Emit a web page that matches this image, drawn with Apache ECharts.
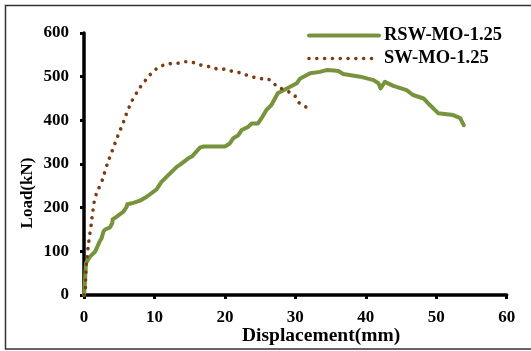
<!DOCTYPE html>
<html>
<head>
<meta charset="utf-8">
<script src="https://cdn.jsdelivr.net/npm/echarts@6/dist/echarts.min.js"></script>
<style>
  html, body { margin: 0; padding: 0; background: #fff; }
  #chart { width: 531px; height: 351px; }
</style>
</head>
<body>
<div id="chart"></div>
<script>
// Load–displacement curves (displacement in mm, load in kN)
const seriesNames = ['RSW-MO-1.25', 'SW-MO-1.25'];

const rswDisp = [0, 0.1, 0.2, 0.28, 0.85, 1.56, 2.0, 2.2, 2.5, 2.75, 3.0, 3.7, 4.0, 4.07, 4.6, 5.6, 6.06, 6.15, 6.8, 7.95, 8.9, 10.3, 11.0, 12.0, 13.2, 13.6, 14.8, 15.3, 16.5, 17.0, 20.0, 20.7, 21.2, 21.9, 22.4, 23.3, 23.8, 24.7, 25.2, 25.9, 26.6, 27.1, 27.5, 28.8, 30.2, 30.7, 32.1, 33.5, 34.4, 35.5, 36.1, 36.8, 39.2, 41.1, 41.8, 42.1, 42.7, 43.9, 45.8, 46.7, 48.2, 49.1, 50.3, 52.4, 53.4, 53.9];
const rswLoad = [0, 20, 50, 73, 88, 99, 114, 122, 130, 145, 150, 155, 164, 173, 179, 191, 202, 208, 210, 216, 225, 242, 259, 275, 294, 298, 313, 317, 338, 340, 340, 347, 359, 366, 378, 385, 393, 393, 405, 424, 435, 450, 462, 473, 485, 496, 508, 511, 515, 514, 513, 506, 500, 492, 485, 473, 488, 479, 469, 458, 450, 435, 416, 412, 405, 389];

const swDisp = [0, 0.14, 0.28, 0.47, 0.71, 1.0, 1.28, 1.7, 2.55, 3.2, 4.0, 4.8, 5.6, 6.4, 7.4, 8.7, 10.2, 11.2, 12.3, 13.4, 14.5, 15.6, 16.7, 17.7, 18.9, 20.0, 21.1, 22.1, 23.2, 24.3, 25.4, 26.5, 27.3, 28.1, 29.1, 30.0, 30.6, 31.6];
const swLoad = [0, 2, 55, 92, 126, 158, 195, 229, 261, 295, 330, 364, 396, 430, 461, 491, 517, 526, 530, 531, 534, 532, 526, 523, 518, 517, 512, 509, 503, 498, 495, 492, 479, 472, 465, 455, 439, 430];

const xTicks = [0, 10, 20, 30, 40, 50, 60];
const yTicks = [0, 100, 200, 300, 400, 500, 600];

const pairs = (xs, ys) => xs.map((x, i) => [x, ys[i]]);

const green = '#77933C';
const brown = '#7F3A10';
const dotPattern = [0.01, 7.8];
const serif = '"Liberation Serif", "Times New Roman", serif';
const chart = echarts.init(document.getElementById('chart'), null, { renderer: 'canvas' });

chart.setOption({
  backgroundColor: '#ffffff',
  animation: false,
  grid: { left: 84, top: 33, right: 24.3, bottom: 56, containLabel: false },
  xAxis: {
    type: 'value',
    min: xTicks[0], max: xTicks[xTicks.length - 1], interval: 10,
    axisLine: { show: true, onZero: false, lineStyle: { color: '#000', width: 3.5 } },
    axisTick: { show: true, inside: false, length: 4, lineStyle: { color: '#000', width: 3 } },
    axisLabel: { color: '#000', fontFamily: serif, fontWeight: 'bold', fontSize: 17, margin: 14 },
    splitLine: { show: false }
  },
  yAxis: {
    type: 'value',
    min: yTicks[0], max: yTicks[yTicks.length - 1], interval: 100,
    axisLine: { show: true, onZero: false, lineStyle: { color: '#000', width: 3.5 } },
    axisTick: { show: true, inside: false, length: 4, lineStyle: { color: '#000', width: 3 } },
    axisLabel: { color: '#000', fontFamily: serif, fontWeight: 'bold', fontSize: 17, margin: 15 },
    splitLine: { show: false }
  },
  legend: {
    orient: 'vertical',
    left: 302, top: 21,
    itemWidth: 70, itemHeight: 12, itemGap: 4,
    itemStyle: { color: 'rgba(0,0,0,0)', borderWidth: 0 },
    textStyle: { color: '#000', fontFamily: serif, fontWeight: 'bold', fontSize: 18.5 },
    data: [
      { name: seriesNames[0], lineStyle: { color: green, width: 4, type: 'solid' } },
      { name: seriesNames[1], lineStyle: { color: brown, width: 3.6, type: dotPattern, cap: 'round' } }
    ]
  },
  series: [
    {
      name: seriesNames[0], type: 'line', showSymbol: false, symbol: 'none', smooth: false,
      data: pairs(rswDisp, rswLoad),
      lineStyle: { color: green, width: 4, join: 'round', cap: 'round' },
      itemStyle: { color: green },
      z: 3
    },
    {
      name: seriesNames[1], type: 'line', showSymbol: false, symbol: 'none', smooth: true,
      data: pairs(swDisp, swLoad),
      lineStyle: { color: brown, width: 3.6, type: dotPattern, cap: 'round' },
      itemStyle: { color: brown },
      z: 4
    }
  ],
  graphic: [
    {
      type: 'rect', silent: true, z: -1,
      shape: { x: 5.5, y: 5.5, width: 530, height: 343.5 },
      style: { fill: null, stroke: '#333', lineWidth: 1.5 }
    },
    {
      type: 'text', left: 242, top: 326,
      style: { text: 'Displacement(mm)', fill: '#000', font: 'bold 19.5px ' + serif }
    },
    {
      type: 'text', x: 19, y: 193, rotation: Math.PI / 2,
      style: { text: 'Load(kN)', fill: '#000', font: 'bold 17px ' + serif, align: 'center', verticalAlign: 'top' }
    }
  ]
});
</script>
</body>
</html>
